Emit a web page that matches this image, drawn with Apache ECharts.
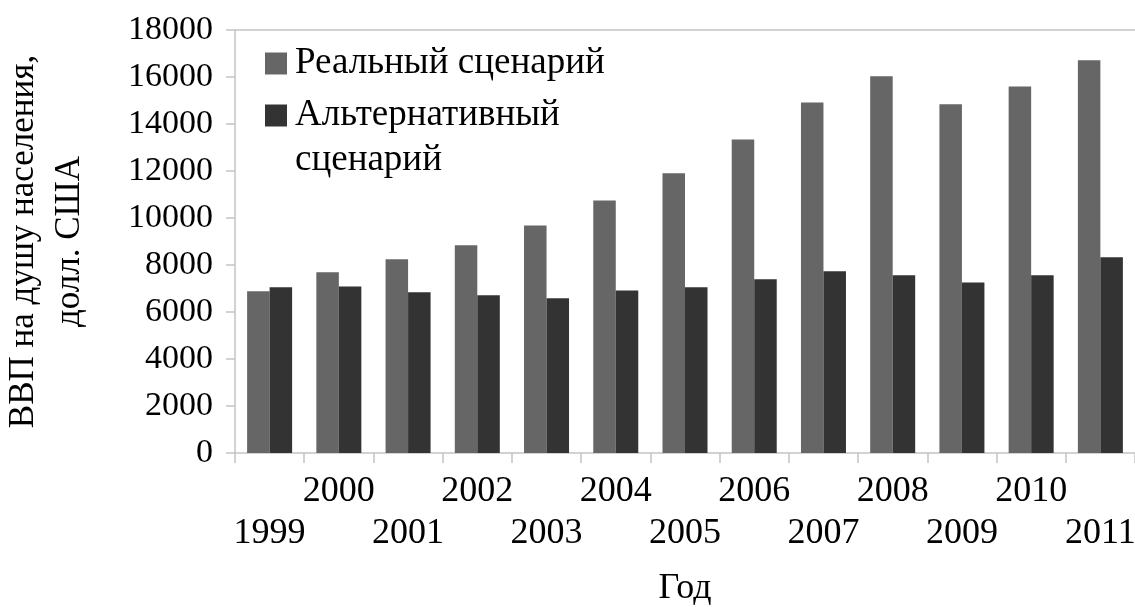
<!DOCTYPE html>
<html>
<head>
<meta charset="utf-8">
<script src="https://cdn.jsdelivr.net/npm/echarts@6/dist/echarts.min.js"></script>
<style>
  html, body { margin: 0; padding: 0; background: #fff; }
  #chart { width: 1135px; height: 607px; }
</style>
</head>
<body>
<div id="chart"></div>
<script>
// data
let years = ['1999', '2000', '2001', '2002', '2003', '2004', '2005',
  '2006', '2007', '2008', '2009', '2010', '2011']
let realScenario = [6880, 7690, 8240, 8840, 9680, 10750, 11900,
  13340, 14920, 16030, 14840, 15600, 16710]
let altScenario = [7050, 7090, 6840, 6710, 6580, 6920, 7050,
  7390, 7730, 7560, 7260, 7560, 8330]
let seriesNames = ['Реальный сценарий', 'Альтернативный сценарий']

let font = '"Liberation Serif", "DejaVu Serif", serif'
let axisGray = '#c3c3c3'

let chart = echarts.init(document.getElementById('chart'))

// second legend entry wraps, first line stays level with the icon
function legendLabel(name) {
  if (name === seriesNames[1]) {
    return '{e| }\n{t|Альтернативный}\n{t|сценарий}'
  }
  return '{t|' + name + '}'
}

let option = {
  animation: false,
  backgroundColor: '#fff',
  textStyle: { fontFamily: font, color: '#000' },
  grid: { left: 235, right: 0, top: 30, bottom: 154, containLabel: false, outerBoundsMode: 'none' },
  legend: {
    orient: 'vertical',
    left: 265,
    top: 45,
    padding: 0,
    itemWidth: 22,
    itemHeight: 22,
    itemGap: -30,
    icon: 'rect',
    formatter: legendLabel,
    textStyle: {
      fontFamily: font,
      color: '#000',
      rich: {
        t: { fontFamily: font, fontSize: 37, lineHeight: 45, color: '#000', padding: [0, 0, 0, 3] },
        e: { fontFamily: font, fontSize: 37, lineHeight: 45 }
      }
    },
    data: seriesNames
  },
  xAxis: [{
    type: 'category',
    data: years,
    name: 'Год',
    nameLocation: 'middle',
    nameGap: 118,
    nameTextStyle: { fontFamily: font, fontSize: 36, color: '#000' },
    axisLine: { lineStyle: { color: axisGray, width: 1.5 } },
    axisTick: { show: true, length: 10, lineStyle: { color: axisGray, width: 1.5 } },
    axisLabel: {
      interval: 0,
      margin: 18,
      fontFamily: font,
      fontSize: 36,
      lineHeight: 42,
      color: '#000',
      formatter: function (value, idx) {
        return idx % 2 === 1 ? value : '\n' + value
      }
    }
  }, {
    type: 'category',
    position: 'top',
    data: years,
    axisLine: { lineStyle: { color: axisGray, width: 1.5 } },
    axisTick: { show: false },
    axisLabel: { show: false }
  }],
  yAxis: {
    type: 'value',
    min: 0,
    max: 18000,
    interval: 2000,
    name: 'ВВП на душу населения,\nдолл. США',
    nameLocation: 'middle',
    nameRotate: 90,
    nameGap: 142,
    nameTextStyle: { fontFamily: font, fontSize: 35, color: '#000', lineHeight: 46 },
    axisLine: { show: true, lineStyle: { color: axisGray, width: 1.5 } },
    axisTick: { show: true, length: 9, lineStyle: { color: axisGray, width: 1.5 } },
    splitLine: { show: false },
    axisLabel: {
      margin: 22,
      fontFamily: font,
      fontSize: 34,
      color: '#000',
      formatter: function (v) { return String(v) }
    }
  },
  series: [{
    name: seriesNames[0],
    type: 'bar',
    data: realScenario,
    barGap: '0%',
    barCategoryGap: '35%',
    itemStyle: { color: '#666666' }
  }, {
    name: seriesNames[1],
    type: 'bar',
    data: altScenario,
    barGap: '0%',
    barCategoryGap: '35%',
    itemStyle: { color: '#333333' }
  }]
}

chart.setOption(option)
</script>
</body>
</html>
